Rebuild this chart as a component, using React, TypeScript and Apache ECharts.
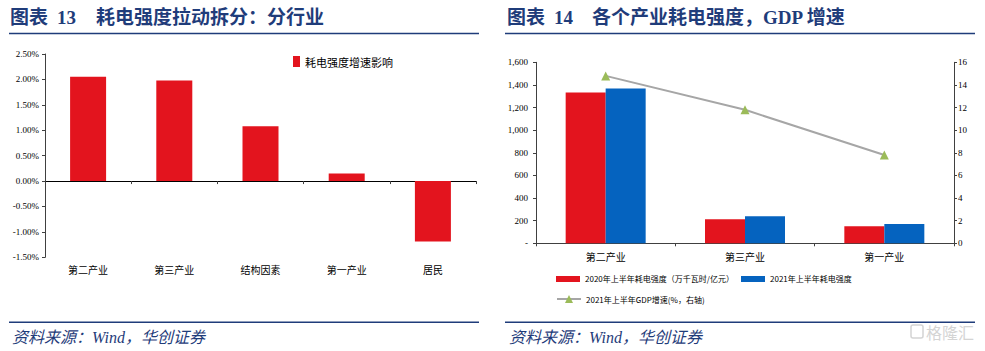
import React, { useEffect, useRef } from "react";
import * as echarts from "echarts";

const leftCategories = ["第二产业", "第三产业", "结构因素", "第一产业", "居民"];
const leftValues = [2.05, 1.98, 1.08, 0.15, -1.19];
const leftSeriesName = "耗电强度增速影响";

const rightCategories = ["第二产业", "第三产业", "第一产业"];
const intensity2020 = [1333, 212, 150];
const intensity2021 = [1368, 239, 171];
const gdpGrowth = [14.8, 11.8, 7.8];
const name2020 = "2020年上半年耗电强度（万千瓦时/亿元）";
const name2021 = "2021年上半年耗电强度";
const nameGdp = "2021年上半年GDP增速(%，右轴)";

const RED = "#E3141E";
const BLUE = "#0563BF";
const NAVY = "#1F3C7A";
const AXIS = "#404040";
const NUM_FONT = "'Liberation Serif', 'Times New Roman', serif";
const CJK_FONT = "'Noto Sans CJK SC', sans-serif";

export default function App() {
  const ref = useRef<HTMLDivElement>(null);
  useEffect(() => {
    if (!ref.current) return;
    const chart = echarts.init(ref.current, undefined, { renderer: "svg" });
    const titleStyle = (text: string, x: number) => ({
      type: "text",
      left: x,
      top: 8,
      style: {
        text,
        fontSize: 19,
        fontWeight: "bold",
        fontFamily: "'Liberation Serif', 'Noto Sans CJK SC', serif",
        fill: NAVY,
      },
    });
    const sourceText = (x: number) => ({
      type: "text",
      left: x,
      top: 329,
      style: {
        text: "资料来源：Wind，华创证券",
        fontSize: 16,
        fontStyle: "italic",
        fontFamily: "'Liberation Serif', 'Noto Sans CJK SC', serif",
        fill: NAVY,
      },
    });
    const hLine = (x1: number, x2: number, y: number) => ({
      type: "line",
      shape: { x1, y1: y, x2, y2: y },
      style: { stroke: NAVY, lineWidth: 1.5 },
    });
    chart.setOption({
      animation: false,
      backgroundColor: "#ffffff",
      graphic: [
        titleStyle("图表", 10),
        titleStyle("13", 57),
        titleStyle("耗电强度拉动拆分：分行业", 96),
        titleStyle("图表", 507),
        titleStyle("14", 554),
        titleStyle("各个产业耗电强度，GDP 增速", 592),
        hLine(9, 479, 33.5),
        hLine(505, 975, 33.5),
        hLine(9, 479, 322.3),
        hLine(505, 975, 322.3),
        sourceText(12),
        sourceText(509),
        {
          type: "rect",
          shape: { x: 911, y: 325, width: 12, height: 13, r: 2 },
          style: { fill: "none", stroke: "#d4d4d4", lineWidth: 1.5 },
        },
        {
          type: "text",
          left: 926,
          top: 324,
          style: { text: "格隆汇", fontSize: 16, fontFamily: CJK_FONT, fill: "#d4d4d4" },
        },
      ],
      legend: [
        {
          data: [leftSeriesName],
          left: 293,
          top: 56,
          padding: 0,
          itemWidth: 7,
          itemHeight: 11,
          icon: "rect",
          textStyle: { fontSize: 11, fontFamily: CJK_FONT, color: "#000" },
        },
        {
          data: [name2020],
          left: 556,
          top: 275,
          padding: 0,
          itemWidth: 24,
          itemHeight: 6,
          icon: "rect",
          textStyle: { fontSize: 8, fontFamily: CJK_FONT, color: "#000" },
        },
        {
          data: [name2021],
          left: 741,
          top: 275,
          padding: 0,
          itemWidth: 24,
          itemHeight: 6,
          icon: "rect",
          textStyle: { fontSize: 8, fontFamily: CJK_FONT, color: "#000" },
        },
        {
          data: [nameGdp],
          left: 556,
          top: 295,
          padding: 0,
          itemWidth: 24,
          itemHeight: 10,
          textStyle: { fontSize: 8, fontFamily: CJK_FONT, color: "#000" },
        },
      ],
      grid: [
        { left: 45, top: 54, width: 431, height: 203.3, containLabel: false },
        { left: 536, top: 62.3, width: 418, height: 181, containLabel: false },
      ],
      xAxis: [
        {
          type: "category",
          gridIndex: 0,
          data: leftCategories,
          position: "bottom",
          axisLine: { show: false, onZero: false },
          axisTick: { show: false },
          axisLabel: { margin: 7, fontSize: 10, fontFamily: CJK_FONT, color: "#000" },
        },
        {
          type: "category",
          gridIndex: 0,
          data: leftCategories,
          position: "bottom",
          axisLine: { show: true, onZero: true, lineStyle: { color: "#000", width: 1 } },
          axisTick: { show: true, length: 3, lineStyle: { color: AXIS } },
          axisLabel: { show: false },
        },
        {
          type: "category",
          gridIndex: 1,
          data: rightCategories,
          position: "bottom",
          axisLine: { show: true, lineStyle: { color: AXIS, width: 1 } },
          axisTick: { show: true, length: 3, lineStyle: { color: AXIS } },
          axisLabel: { margin: 8, fontSize: 10, fontFamily: CJK_FONT, color: "#000" },
        },
      ],
      yAxis: [
        {
          type: "value",
          gridIndex: 0,
          min: -1.5,
          max: 2.5,
          interval: 0.5,
          axisLine: { show: true, lineStyle: { color: AXIS } },
          axisTick: { show: true, length: 3, lineStyle: { color: AXIS } },
          splitLine: { show: false },
          axisLabel: {
            margin: 6,
            fontSize: 9,
            fontFamily: NUM_FONT,
            color: "#000",
            formatter: (v: number) => v.toFixed(2) + "%",
          },
        },
        {
          type: "value",
          gridIndex: 1,
          min: 0,
          max: 1600,
          interval: 200,
          position: "left",
          axisLine: { show: true, lineStyle: { color: AXIS } },
          axisTick: { show: true, length: 3, lineStyle: { color: AXIS } },
          splitLine: { show: false },
          axisLabel: {
            margin: 8,
            fontSize: 9,
            fontFamily: NUM_FONT,
            color: "#000",
            formatter: (v: number) => (v === 0 ? "-" : v.toLocaleString("en-US")),
          },
        },
        {
          type: "value",
          gridIndex: 1,
          min: 0,
          max: 16,
          interval: 2,
          position: "right",
          axisLine: { show: true, lineStyle: { color: AXIS } },
          axisTick: { show: true, length: 3, lineStyle: { color: AXIS } },
          splitLine: { show: false },
          axisLabel: { margin: 4, fontSize: 9, fontFamily: NUM_FONT, color: "#000" },
        },
      ],
      series: [
        {
          name: leftSeriesName,
          type: "bar",
          xAxisIndex: 0,
          yAxisIndex: 0,
          data: leftValues,
          barWidth: 36,
          itemStyle: { color: RED },
        },
        {
          name: name2020,
          type: "bar",
          xAxisIndex: 2,
          yAxisIndex: 1,
          data: intensity2020,
          barWidth: 40,
          barGap: "0%",
          itemStyle: { color: RED },
        },
        {
          name: name2021,
          type: "bar",
          xAxisIndex: 2,
          yAxisIndex: 1,
          data: intensity2021,
          barWidth: 40,
          barGap: "0%",
          itemStyle: { color: BLUE },
        },
        {
          name: nameGdp,
          type: "line",
          xAxisIndex: 2,
          yAxisIndex: 2,
          data: gdpGrowth,
          symbol: "triangle",
          symbolSize: 9,
          lineStyle: { color: "#A6A6A6", width: 2 },
          itemStyle: { color: "#9BBB59" },
        },
      ],
    });
    return () => chart.dispose();
  }, []);
  return (
    <div
      ref={ref}
      style={{ position: "fixed", left: 0, top: 0, width: 985, height: 351, background: "#fff" }}
    />
  );
}
